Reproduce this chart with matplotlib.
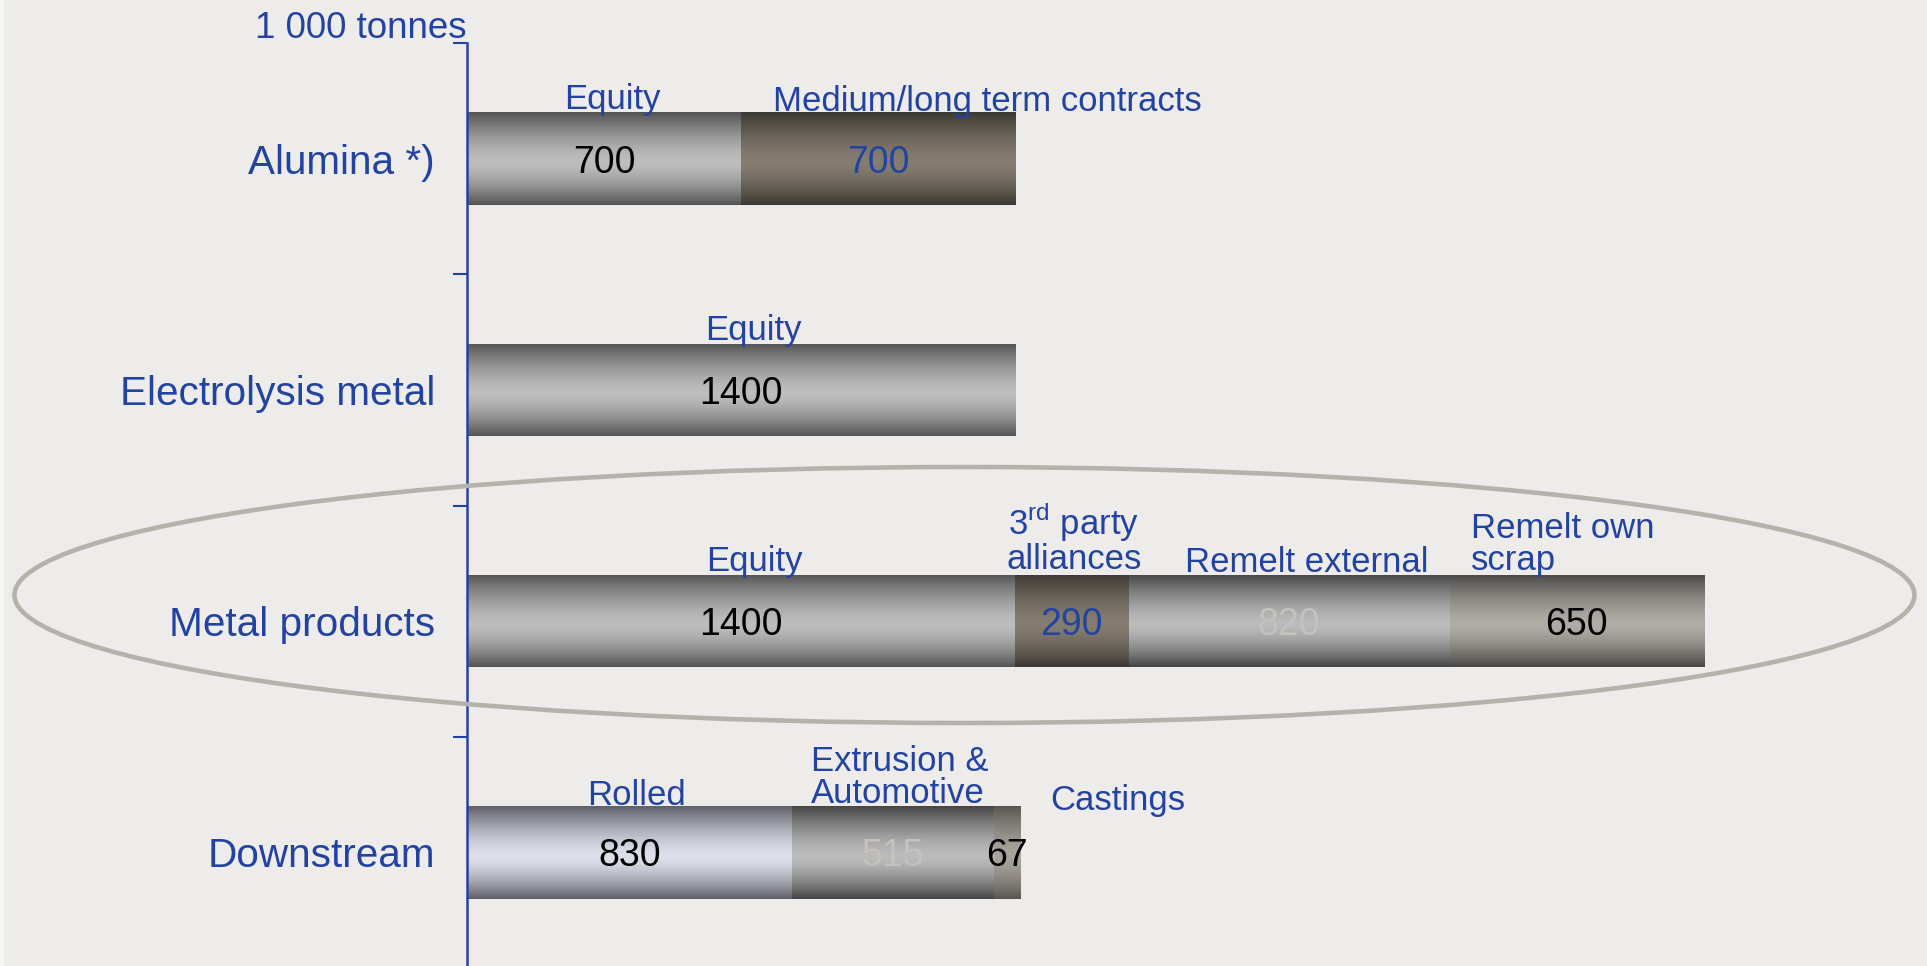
import numpy as np
import matplotlib.pyplot as plt
from matplotlib.colors import to_rgb
from matplotlib.patches import Ellipse, Rectangle

plt.rcParams['font.family'] = ['Liberation Sans', 'DejaVu Sans']
plt.rcParams['mathtext.fontset'] = 'custom'
plt.rcParams['mathtext.rm'] = 'Liberation Sans'

BLUE = '#2343a0'
BG = '#edecea'
FAINT = '#c5c2bd'

unit_label = '1 000 tonnes'
categories = ['Alumina *)', 'Electrolysis metal', 'Metal products', 'Downstream']

alumina_parts = ['Equity', 'Medium/long term contracts']
alumina_values = [700, 700]

electrolysis_parts = ['Equity']
electrolysis_values = [1400]

metal_parts = ['Equity', '3$^{\\mathrm{rd}}$ party\nalliances', 'Remelt external', 'Remelt own\nscrap']
metal_values = [1400, 290, 820, 650]

downstream_parts = ['Rolled', 'Extrusion &\nAutomotive', 'Castings']
downstream_values = [830, 515, 67]

rows = [
    (alumina_parts, alumina_values),
    (electrolysis_parts, electrolysis_values),
    (metal_parts, metal_values),
    (downstream_parts, downstream_values),
]

# metallic finishes: (dark edge colour, highlight colour)
GREY = ('#545454', '#bebebe')
STEEL = ('#464646', '#bcbcbc')
BROWN = ('#3b3933', '#867d71')
WARM = ('#4a4845', '#b0aca6')
WARM2 = ('#585650', '#aaa59c')
ICE = ('#5f6068', '#dde0eb')

# per segment: finish, value colour, label anchor (fraction of width), dx px, dy px, ha
styles = [
    [(GREY, 'black', 0.5, 8, 4, 'center'), (BROWN, BLUE, 0.0, 32, 2, 'left')],
    [(GREY, 'black', 0.5, 12, 4, 'center')],
    [(GREY, 'black', 0.5, 13, 4, 'center'), (BROWN, BLUE, 0.5, 2, 6, 'center'),
     (STEEL, FAINT, 0.5, 18, 3, 'center'), (WARM, 'black', 0.0, 21, 5, 'left')],
    [(ICE, 'black', 0.5, 7, 1, 'center'), (STEEL, FAINT, 0.5, 7, 3, 'center'),
     (WARM2, 'black', 1.0, 30, -4, 'left')],
]


def shade(ax, patch, finish):
    # vertical metallic gradient clipped to the bar
    x, y = patch.get_x(), patch.get_y()
    w, h = patch.get_width(), patch.get_height()
    t = np.linspace(0, 1, 120)
    peak = 0.54
    d = np.where(t < peak, (peak - t) / peak, (t - peak) / (1 - peak))
    k = 1 - d ** 1.5
    dark, light = np.array(to_rgb(finish[0])), np.array(to_rgb(finish[1]))
    img = dark[None, :] + k[:, None] * (light - dark)[None, :]
    im = ax.imshow(img[:, None, :], extent=(x, x + w, y + h, y), origin='upper',
                   aspect='auto', interpolation='bilinear', zorder=2)
    im.set_clip_path(patch)


fig = plt.figure(figsize=(19.27, 9.66), dpi=100, facecolor=BG)
ax = fig.add_axes([467 / 1927, -2 / 966, 1460 / 1927, 925 / 966])
ax.set_facecolor(BG)

y = np.arange(len(categories))
px = 0.72  # points per pixel at 100 dpi

for i, (parts, values) in enumerate(rows):
    lefts = np.concatenate([[0], np.cumsum(values)[:-1]])
    bars = ax.barh([y[i]] * len(values), values, left=lefts, height=0.4,
                   color=[s[0][1] for s in styles[i]], edgecolor='none', zorder=1)
    for bar, part, val, st in zip(bars, parts, values, styles[i]):
        finish, vcol, anchor, dx, dy, ha = st
        shade(ax, bar, finish)
        bx, bw = bar.get_x(), bar.get_width()
        ax.text(bx + bw / 2, y[i], str(val), ha='center', va='center_baseline',
                fontsize=27, color=vcol, zorder=4)
        ax.annotate(part, xy=(bx + anchor * bw, bar.get_y()),
                    xytext=(dx * px, (dy - 7.3) * px), textcoords='offset points',
                    ha=ha, va='bottom', multialignment='left' if ha == 'left' or '&' in part else 'center',
                    fontsize=25, color=BLUE, zorder=4, linespacing=0.98)

ax.set_xlim(0, 1460 / 0.3915)
ax.set_ylim(3.5, -0.5)
ax.set_yticks(y)
ax.set_yticklabels(categories, fontsize=29.2, color=BLUE)
ax.set_yticks(np.arange(len(categories) + 1) - 0.5, minor=True)
ax.tick_params(axis='y', which='major', length=0, pad=23)
ax.tick_params(axis='y', which='minor', length=10, width=1.5, color=BLUE, direction='out')
ax.xaxis.set_visible(False)
for side in ['top', 'right', 'bottom']:
    ax.spines[side].set_visible(False)
ax.spines['left'].set_color(BLUE)
ax.spines['left'].set_linewidth(1.8)

fig.text(467 / 1927, 1 - 29 / 966, unit_label, ha='right', va='center',
         fontsize=26.5, color=BLUE)

# highlight ring round the metal products row
fig.add_artist(Ellipse((0.5005, 1 - 595 / 966), 1900 / 1927, 256 / 966,
                       transform=fig.transFigure, fill=False,
                       edgecolor='#b4b2aa', linewidth=3.3, zorder=5))
fig.add_artist(Rectangle((0, 0), 4 / 1927, 1, transform=fig.transFigure,
                         facecolor='#f6f6f5', edgecolor='none', zorder=0))

fig.savefig('out.png', dpi=100, facecolor=BG)
